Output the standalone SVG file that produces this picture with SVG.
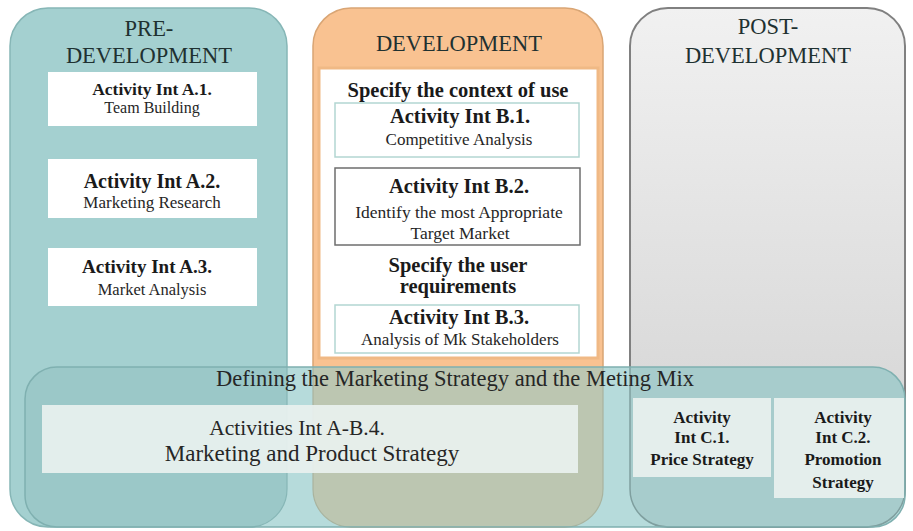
<svg xmlns="http://www.w3.org/2000/svg" width="913" height="531" viewBox="0 0 913 531" font-family="'Liberation Serif', 'Times New Roman', serif">
  <defs>
    <linearGradient id="greyFill" x1="0" y1="0" x2="0" y2="1">
      <stop offset="0" stop-color="#f1f1f1"/>
      <stop offset="1" stop-color="#d0d0d0"/>
    </linearGradient>
    <!-- outline of the strategy band, used to tint the parts of the columns it covers -->
    <clipPath id="bandClip">
      <rect x="25" y="367" width="880" height="160" rx="32"/>
    </clipPath>
    <style>
      text { font-family: 'Liberation Serif', 'Times New Roman', serif; text-anchor: middle; fill: #262626; }
      .phase { font-size: 22.5px; fill: #1f3131; }
      .b { font-weight: bold; fill: #1a1a1a; }
      .box { fill: #ffffff; }
      .mid { fill: #ffffff; stroke: #b3d6d2; stroke-width: 1.5; }
      .band-box { fill: #e9f1ef; fill-opacity: 0.92; }
    </style>
  </defs>

  <rect width="913" height="531" fill="#ffffff"/>

  <!-- Pre-development column -->
  <g id="pre-development">
    <rect x="10" y="8" width="277" height="519" rx="38" fill="#a4d0d0" stroke="#86b6b6" stroke-width="1.5"/>
    <text class="phase" x="149" y="36">PRE-</text>
    <text class="phase" x="149" y="63">DEVELOPMENT</text>
  </g>
  <g id="activity-a1">
    <rect class="box" x="48" y="72" width="209" height="54"/>
    <text class="b" x="152" y="95" font-size="17.5">Activity Int A.1.</text>
    <text x="152" y="113" font-size="16">Team Building</text>
  </g>
  <g id="activity-a2">
    <rect class="box" x="48" y="159" width="209" height="59"/>
    <text class="b" x="152" y="188" font-size="20">Activity Int A.2.</text>
    <text x="152" y="208" font-size="17">Marketing Research</text>
  </g>
  <g id="activity-a3">
    <rect class="box" x="48" y="248" width="209" height="58"/>
    <text class="b" x="147" y="273" font-size="19">Activity Int A.3.</text>
    <text x="152" y="295" font-size="16.5">Market Analysis</text>
  </g>

  <!-- Development column -->
  <g id="development">
    <rect x="313" y="8" width="290" height="519" rx="38" fill="#f9c291" stroke="#d9a574" stroke-width="1.5"/>
    <rect x="319" y="68" width="279" height="290" fill="#ffffff" stroke="#f0b985" stroke-width="3"/>
    <text class="phase" x="459" y="51">DEVELOPMENT</text>
    <text class="b" x="458" y="97" font-size="20.5">Specify the context of use</text>
    <text class="b" x="458" y="272" font-size="20.5">Specify the user</text>
    <text class="b" x="458" y="293" font-size="20.5">requirements</text>
  </g>
  <g id="activity-b1">
    <rect class="mid" x="335" y="103" width="244" height="54"/>
    <text class="b" x="460" y="123" font-size="20.5">Activity Int B.1.</text>
    <text x="459" y="145" font-size="17">Competitive Analysis</text>
  </g>
  <g id="activity-b2">
    <rect x="335" y="168" width="245" height="77" fill="#ffffff" stroke="#6e6e6e" stroke-width="1.5"/>
    <text class="b" x="459" y="193" font-size="20.5">Activity Int B.2.</text>
    <text x="459" y="218" font-size="17.5">Identify the most Appropriate</text>
    <text x="460" y="239" font-size="17.5">Target Market</text>
  </g>
  <g id="activity-b3">
    <rect class="mid" x="335" y="305" width="244" height="48"/>
    <text class="b" x="459" y="324" font-size="20.5">Activity Int B.3.</text>
    <text x="460" y="345" font-size="17">Analysis  of Mk Stakeholders</text>
  </g>

  <!-- Post-development column -->
  <g id="post-development">
    <rect x="630" y="8" width="275" height="519" rx="38" fill="url(#greyFill)" stroke="#808080" stroke-width="2"/>
    <text class="phase" x="768" y="34">POST-</text>
    <text class="phase" x="768" y="63">DEVELOPMENT</text>
  </g>

  <!-- Marketing strategy band laid across all three columns -->
  <g id="marketing-strategy">
    <rect x="25" y="367" width="880" height="160" rx="32" fill="#b6dbdb"/>
    <g clip-path="url(#bandClip)">
      <rect x="10" y="8" width="277" height="519" rx="38" fill="#9bc8c8" stroke="#86b6b6" stroke-width="1.2"/>
      <rect x="313" y="8" width="290" height="519" rx="38" fill="#bcc6b1" stroke="#a9b39e" stroke-width="1.2"/>
      <rect x="630" y="8" width="275" height="519" rx="38" fill="#a7cccc" stroke="#7f9f9f" stroke-width="1.5"/>
    </g>
    <rect x="25" y="367" width="880" height="160" rx="32" fill="none" stroke="#7fb0b0" stroke-width="1.5"/>
    <text x="455" y="386" font-size="22.5" fill="#1f3838">Defining the Marketing Strategy and the Meting Mix</text>
  </g>
  <g id="activities-ab4">
    <rect class="band-box" x="42" y="405" width="536" height="68"/>
    <text x="297" y="435" font-size="21.5">Activities Int A-B.4.</text>
    <text x="312" y="461" font-size="23">Marketing and Product Strategy</text>
  </g>
  <g id="activity-c1">
    <rect class="band-box" x="633" y="398" width="138" height="79"/>
    <text class="b" x="702" y="423" font-size="17">Activity</text>
    <text class="b" x="702" y="443" font-size="17">Int C.1.</text>
    <text class="b" x="702" y="465" font-size="17">Price Strategy</text>
  </g>
  <g id="activity-c2">
    <rect class="band-box" x="774" y="398" width="130" height="100"/>
    <text class="b" x="843" y="423" font-size="17">Activity</text>
    <text class="b" x="843" y="443" font-size="17">Int C.2.</text>
    <text class="b" x="843" y="465" font-size="17">Promotion</text>
    <text class="b" x="843" y="488" font-size="17">Strategy</text>
  </g>

  <g id="connectors"/>
</svg>
